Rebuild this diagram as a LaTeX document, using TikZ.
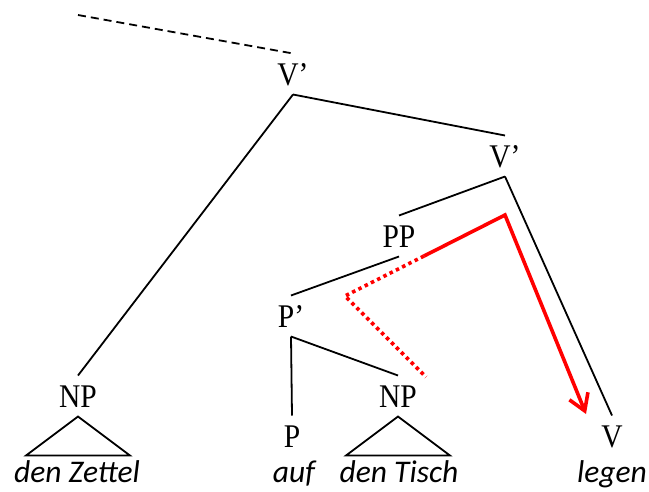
\documentclass[tikz,border=0pt]{standalone}
\usepackage{fontspec}
\usepackage{graphicx}
\usetikzlibrary{arrows.meta}
\newfontfamily\catfont{Liberation Serif}
\newfontfamily\wordfont{Carlito}
\newcommand{\catlab}[1]{\scalebox{1}[1.12]{#1}}
\begin{document}
\begin{tikzpicture}[x=1pt,y=-1pt,
  cat/.style={font=\catfont\fontsize{29.5}{34}\selectfont, anchor=base, inner sep=0pt, outer sep=9.5pt, text height=22pt, text depth=0pt},
  word/.style={font=\wordfont\itshape\fontsize{31.5}{36}\selectfont, anchor=base, inner sep=0pt},
  edge/.style={line width=1.8pt},
  move/.style={red, line width=3.6pt},
  trace/.style={red, line width=3.6pt, dash pattern=on 3.5pt off 3.5pt}]
\useasboundingbox (0,0) rectangle (649,491);
% category labels
\node[cat] (v1) at (293,85) {\catlab{V’}};
\node[cat] (v2) at (505,167) {\catlab{V’}};
\node[cat] (pp) at (399,247) {\catlab{PP}};
\node[cat] (pbar) at (291,327) {\catlab{P’}};
\node[cat] (np1) at (78,407) {\catlab{NP}};
\node[cat] (np2) at (398,407) {\catlab{NP}};
\node[cat] (p) at (292,447) {\catlab{P}};
\node[cat] (v) at (612,447) {\catlab{V}};
% words
\node[word] (w1) at (77,482) {den Zettel};
\node[word] (w2) at (294,482) {auf};
\node[word] (w3) at (399,482) {den Tisch};
\node[word] (w4) at (612,482) {legen};
% branches
\coordinate (dtop) at (78,15);
\draw[edge, dash pattern=on 8pt off 5pt] (dtop) -- (v1.north);
\draw[edge] (v1.south) -- (np1.north);
\draw[edge] (v1.south) -- (v2.north);
\draw[edge] (v2.south) -- (pp.north);
\draw[edge] (v2.south) -- (v.north);
\draw[edge] (pp.south) -- (pbar.north);
\draw[edge] (pbar.south) -- (p.north);
\draw[edge] (pbar.south) -- (np2.north);
\draw[edge] (np1.south) -- ++(-52,39) -- ++(104,0) -- cycle;
\draw[edge] (np2.south) -- ++(-52,39) -- ++(104,0) -- cycle;
% movement
\coordinate (rs) at (424,256);
\coordinate (rc) at (505,215);
\coordinate (rm) at (345,296);
\coordinate (re) at (426,377);
\coordinate (rt) at (586,414);
\draw[move, -{Straight Barb[length=16pt,width=20pt]}] (rs) -- (rc) -- (rt);
\draw[trace] (rs) -- (rm) -- (re);
\end{tikzpicture}
\end{document}
